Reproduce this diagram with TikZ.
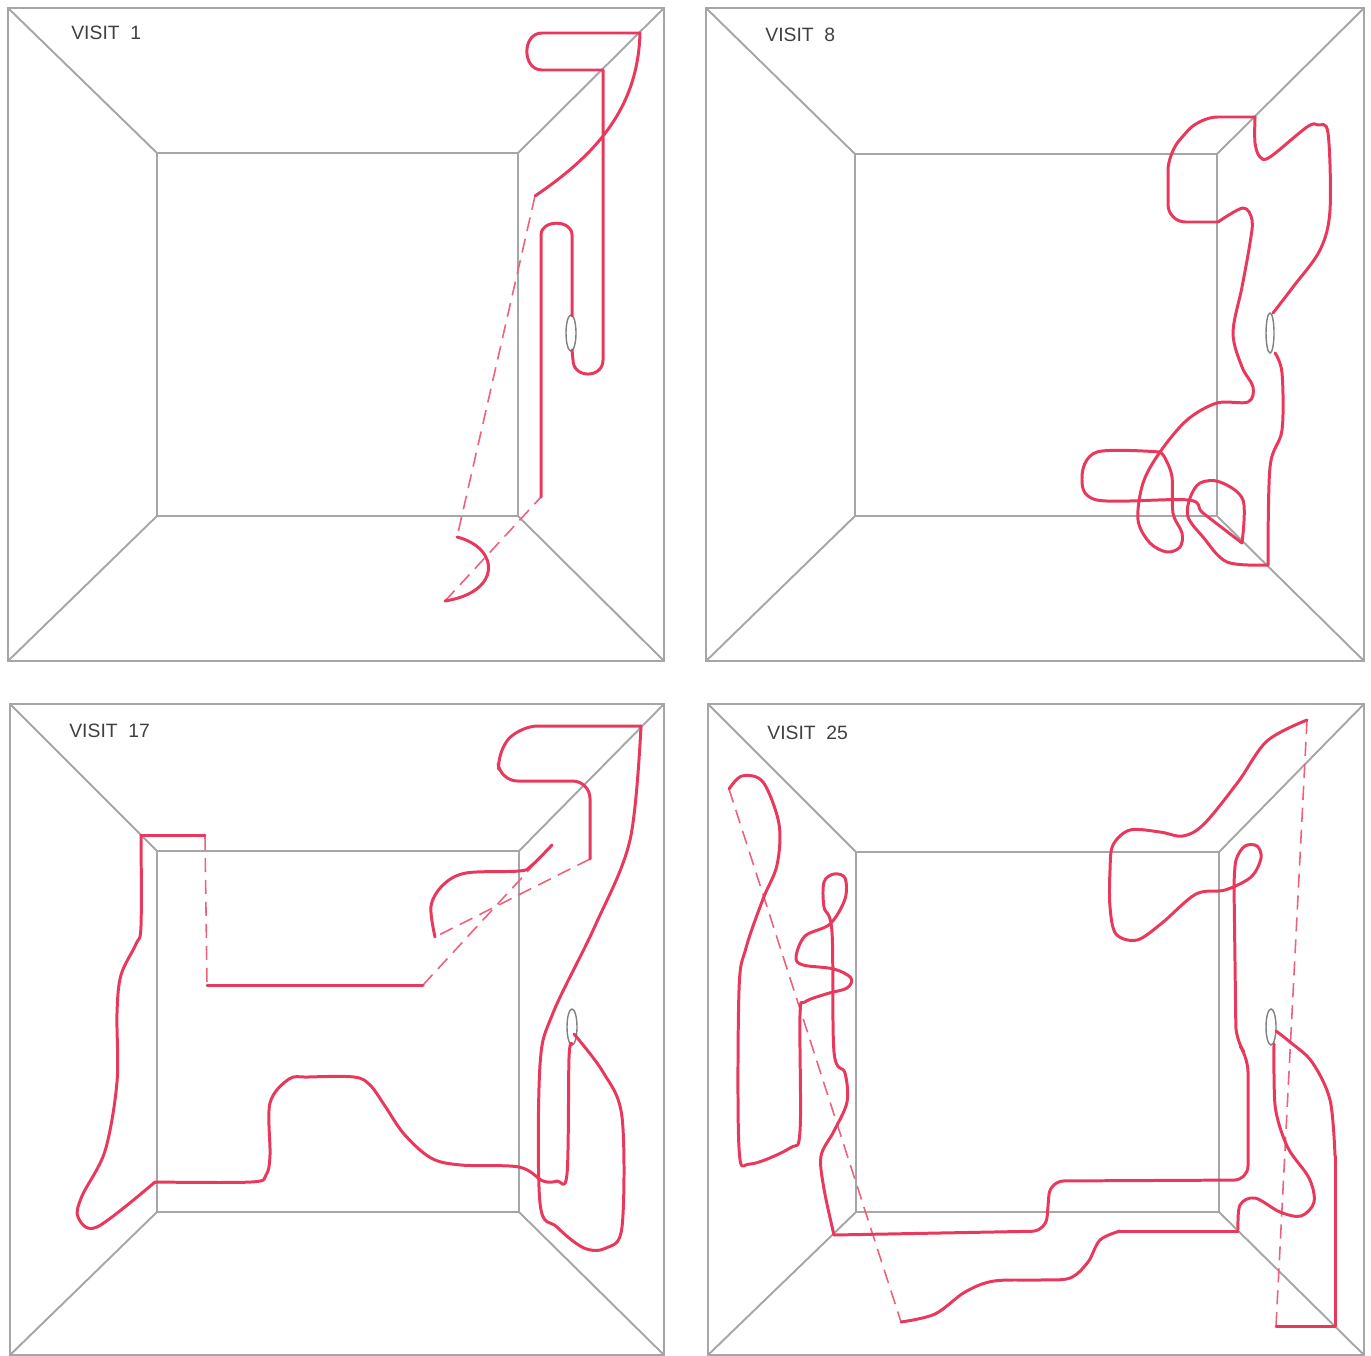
\documentclass[tikz,border=0pt]{standalone}
\usepackage{fontspec}
\setmainfont{Liberation Sans}
\usetikzlibrary{positioning}
\definecolor{trailred}{HTML}{E8395C}
\definecolor{wallgray}{HTML}{A6A6A6}

\begin{document}
\begin{tikzpicture}[x=0.02cm, y=-0.02cm,
  wall/.style={draw=wallgray, line width=1.1pt},
  trail/.style={draw=trailred, line width=1.7pt, line join=round, line cap=round},
  jump/.style={draw=trailred!80, line width=0.9pt, dash pattern=on 8pt off 4.5pt},
  hole/.style={draw=gray, line width=0.8pt},
  visit/.style={anchor=west, inner sep=0pt, font=\fontsize{11}{13}\selectfont, text=black!75}
]
  \useasboundingbox (0,0) rectangle (1371,1355);

  % rooms
  \draw[wall] (8,8) rectangle (664,661);
  \draw[wall] (157,153) rectangle (518,516);
  \draw[wall] (8,8) -- (157,153) (664,8) -- (518,153) (8,661) -- (157,516) (664,661) -- (518,516);

  \draw[wall] (706,8) rectangle (1364,661);
  \draw[wall] (855,154) rectangle (1217,516);
  \draw[wall] (706,8) -- (855,154) (1364,8) -- (1217,154) (706,661) -- (855,516) (1364,661) -- (1217,516);

  \draw[wall] (10,704) rectangle (664,1355);
  \draw[wall] (157,851) rectangle (519,1212);
  \draw[wall] (10,704) -- (157,851) (664,704) -- (519,851) (10,1355) -- (157,1212) (664,1355) -- (519,1212);

  \draw[wall] (708,704) rectangle (1364,1355);
  \draw[wall] (856,852) rectangle (1219,1212);
  \draw[wall] (708,704) -- (856,852) (1364,704) -- (1219,852) (708,1355) -- (856,1212) (1364,1355) -- (1219,1212);

  \node[visit] (v1)  at (71,33)   {VISIT\ \ 1};
  \node[visit] (v8)  at (765,35)  {VISIT\ \ 8};
  \node[visit] (v17) at (69,731)  {VISIT\ \ 17};
  \node[visit] (v25) at (767,733) {VISIT\ \ 25};

  % visit 1
  \draw[hole] (571,333) ellipse [x radius=5, y radius=18];
  \draw[jump] (535,196) -- (457,537);
  \draw[jump] (445,601) -- (541,497);
  \draw[trail] (457,537) .. controls (500,548) and (502,592) .. (445,601);
  \draw[trail] (541,497) -- (541,235) to[out=90,in=90,looseness=1.3] (572,235) -- (572,316);
  \draw[trail] (572,350) -- (573,360) to[out=-90,in=-90,looseness=1.6] (603,360) -- (603,70) -- (542,70)
    to[out=180,in=180,looseness=1.4] (542,33) -- (640,33) .. controls (638,105) and (600,152) .. (535,196);

  % visit 8
  \draw[hole] (1270,333) ellipse [x radius=4, y radius=20];
  \draw[trail, rounded corners=10pt] (1255,117) -- (1200,117) -- (1168,153) -- (1168,222) -- (1218,222);
  \draw[trail] plot[smooth, tension=0.55] coordinates {(1218,222) (1243,208) (1252,220) (1250,243) (1242,287)
    (1233,333) (1242,367) (1253,387) (1248,402) (1217,403) (1187,420) (1160,452) (1143,483) (1138,520)
    (1150,543) (1167,552) (1180,547) (1182,533) (1173,513) (1172,477) (1165,458) (1160,452)};
  \draw[trail] plot[smooth, tension=0.55] coordinates {(1160,452) (1097,452) (1082,477) (1097,500) (1188,500)
    (1203,513) (1242,543)};
  \draw[trail] plot[smooth, tension=0.55] coordinates {(1242,543) (1243,500) (1220,482) (1200,483) (1190,498)
    (1188,517) (1203,537) (1227,562) (1268,565)};
  \draw[trail] plot[smooth, tension=0.55] coordinates {(1268,565) (1270,467) (1282,430) (1282,373) (1275,353)};
  \draw[trail] plot[smooth, tension=0.55] coordinates {(1273,313) (1293,287) (1320,250) (1330,210) (1328,133)
    (1318,125) (1307,127) (1270,157) (1260,157) (1255,143) (1255,117)};

  % visit 17
  \draw[hole] (572,1027) ellipse [x radius=5, y radius=18];
  \draw[jump] (205,836) -- (207,985);
  \draw[jump] (423,985) -- (552,845);
  \draw[jump] (590,859) -- (435,937);
  \draw[trail] (207,985) -- (423,985);
  \draw[trail] plot[smooth, tension=0.55] coordinates {(435,937) (431,906) (443,885) (466,873) (519,871)
    (531,866) (552,845)};
  \draw[trail] plot[smooth, tension=0.55] coordinates {(572,1044) (569,1058) (567,1174) (557,1181) (543,1181)
    (519,1167) (461,1165) (431,1158) (404,1134) (385,1106) (370,1085) (354,1077) (308,1077) (289,1079)
    (270,1103) (270,1155) (266,1175) (251,1182) (155,1182)};
  \draw[trail] plot[smooth, tension=0.55] coordinates {(155,1182) (97,1227) (78,1217) (82,1196) (105,1151)
    (117,1082) (117,1013) (121,975) (136,944) (141,926) (141,835)};
  \draw[trail] (141,835) -- (205,835);
  \draw[trail] plot[smooth, tension=0.55] coordinates {(574,1034) (603,1072) (622,1117) (622,1227) (606,1248)
    (584,1248) (557,1227) (540,1203) (540,1065) (553,1013) (595,926) (630,840) (641,726)};
  \draw[trail, rounded corners=10pt] (641,726) -- (520,726) -- (497,752) -- (500,781) -- (590,781) -- (590,859);

  % visit 25
  \draw[hole] (1271,1027) ellipse [x radius=5, y radius=18];
  \draw[jump] (729,789) -- (901,1322);
  \draw[jump] (1307,720) -- (1276,1326);
  \draw[trail] plot[smooth, tension=0.55] coordinates {(729,789) (742,776) (763,782) (779,824) (777,865)
    (763,899) (746,948) (739,990) (739,1148) (750,1164) (790,1148) (800,1131) (800,1015) (805,1002)
    (826,994) (847,988) (851,978) (834,969) (803,965) (796,957) (805,936) (830,924) (845,899) (845,878)
    (834,874) (824,882) (824,907) (832,932) (834,1052) (845,1073) (847,1102) (834,1131) (821,1156)
    (824,1189) (834,1235)};
  \draw[trail, rounded corners=8pt] (834,1235) -- (1046,1231) -- (1050,1181) -- (1248,1180) -- (1248,1058)
    -- (1236,1040) -- (1234,886);
  \draw[trail] plot[smooth, tension=0.55] coordinates {(1234,886) (1236,860) (1245,846) (1257,846) (1261,858)
    (1251,877) (1225,890) (1196,894) (1162,923) (1137,940) (1116,934) (1110,907) (1110,870) (1113,845)
    (1130,830) (1160,832) (1183,836) (1204,824) (1238,782) (1267,741) (1307,720)};
  \draw[trail] (1276,1326) -- (1335,1326) -- (1335,1156);
  \draw[trail] plot[smooth, tension=0.55] coordinates {(1335,1156) (1330,1100) (1312,1062) (1290,1042)
    (1276,1031)};
  \draw[trail] plot[smooth, tension=0.55] coordinates {(1274,1044) (1274,1075) (1276,1112) (1288,1148)
    (1309,1178) (1314,1202) (1301,1216) (1280,1212) (1255,1198) (1240,1205) (1238,1229)};
  \draw[trail] (1238,1231) -- (1120,1231);
  \draw[trail] plot[smooth, tension=0.55] coordinates {(1120,1231) (1100,1240) (1088,1262) (1070,1278)
    (1040,1280) (994,1281) (965,1292) (935,1314) (901,1322)};
\end{tikzpicture}
\end{document}
